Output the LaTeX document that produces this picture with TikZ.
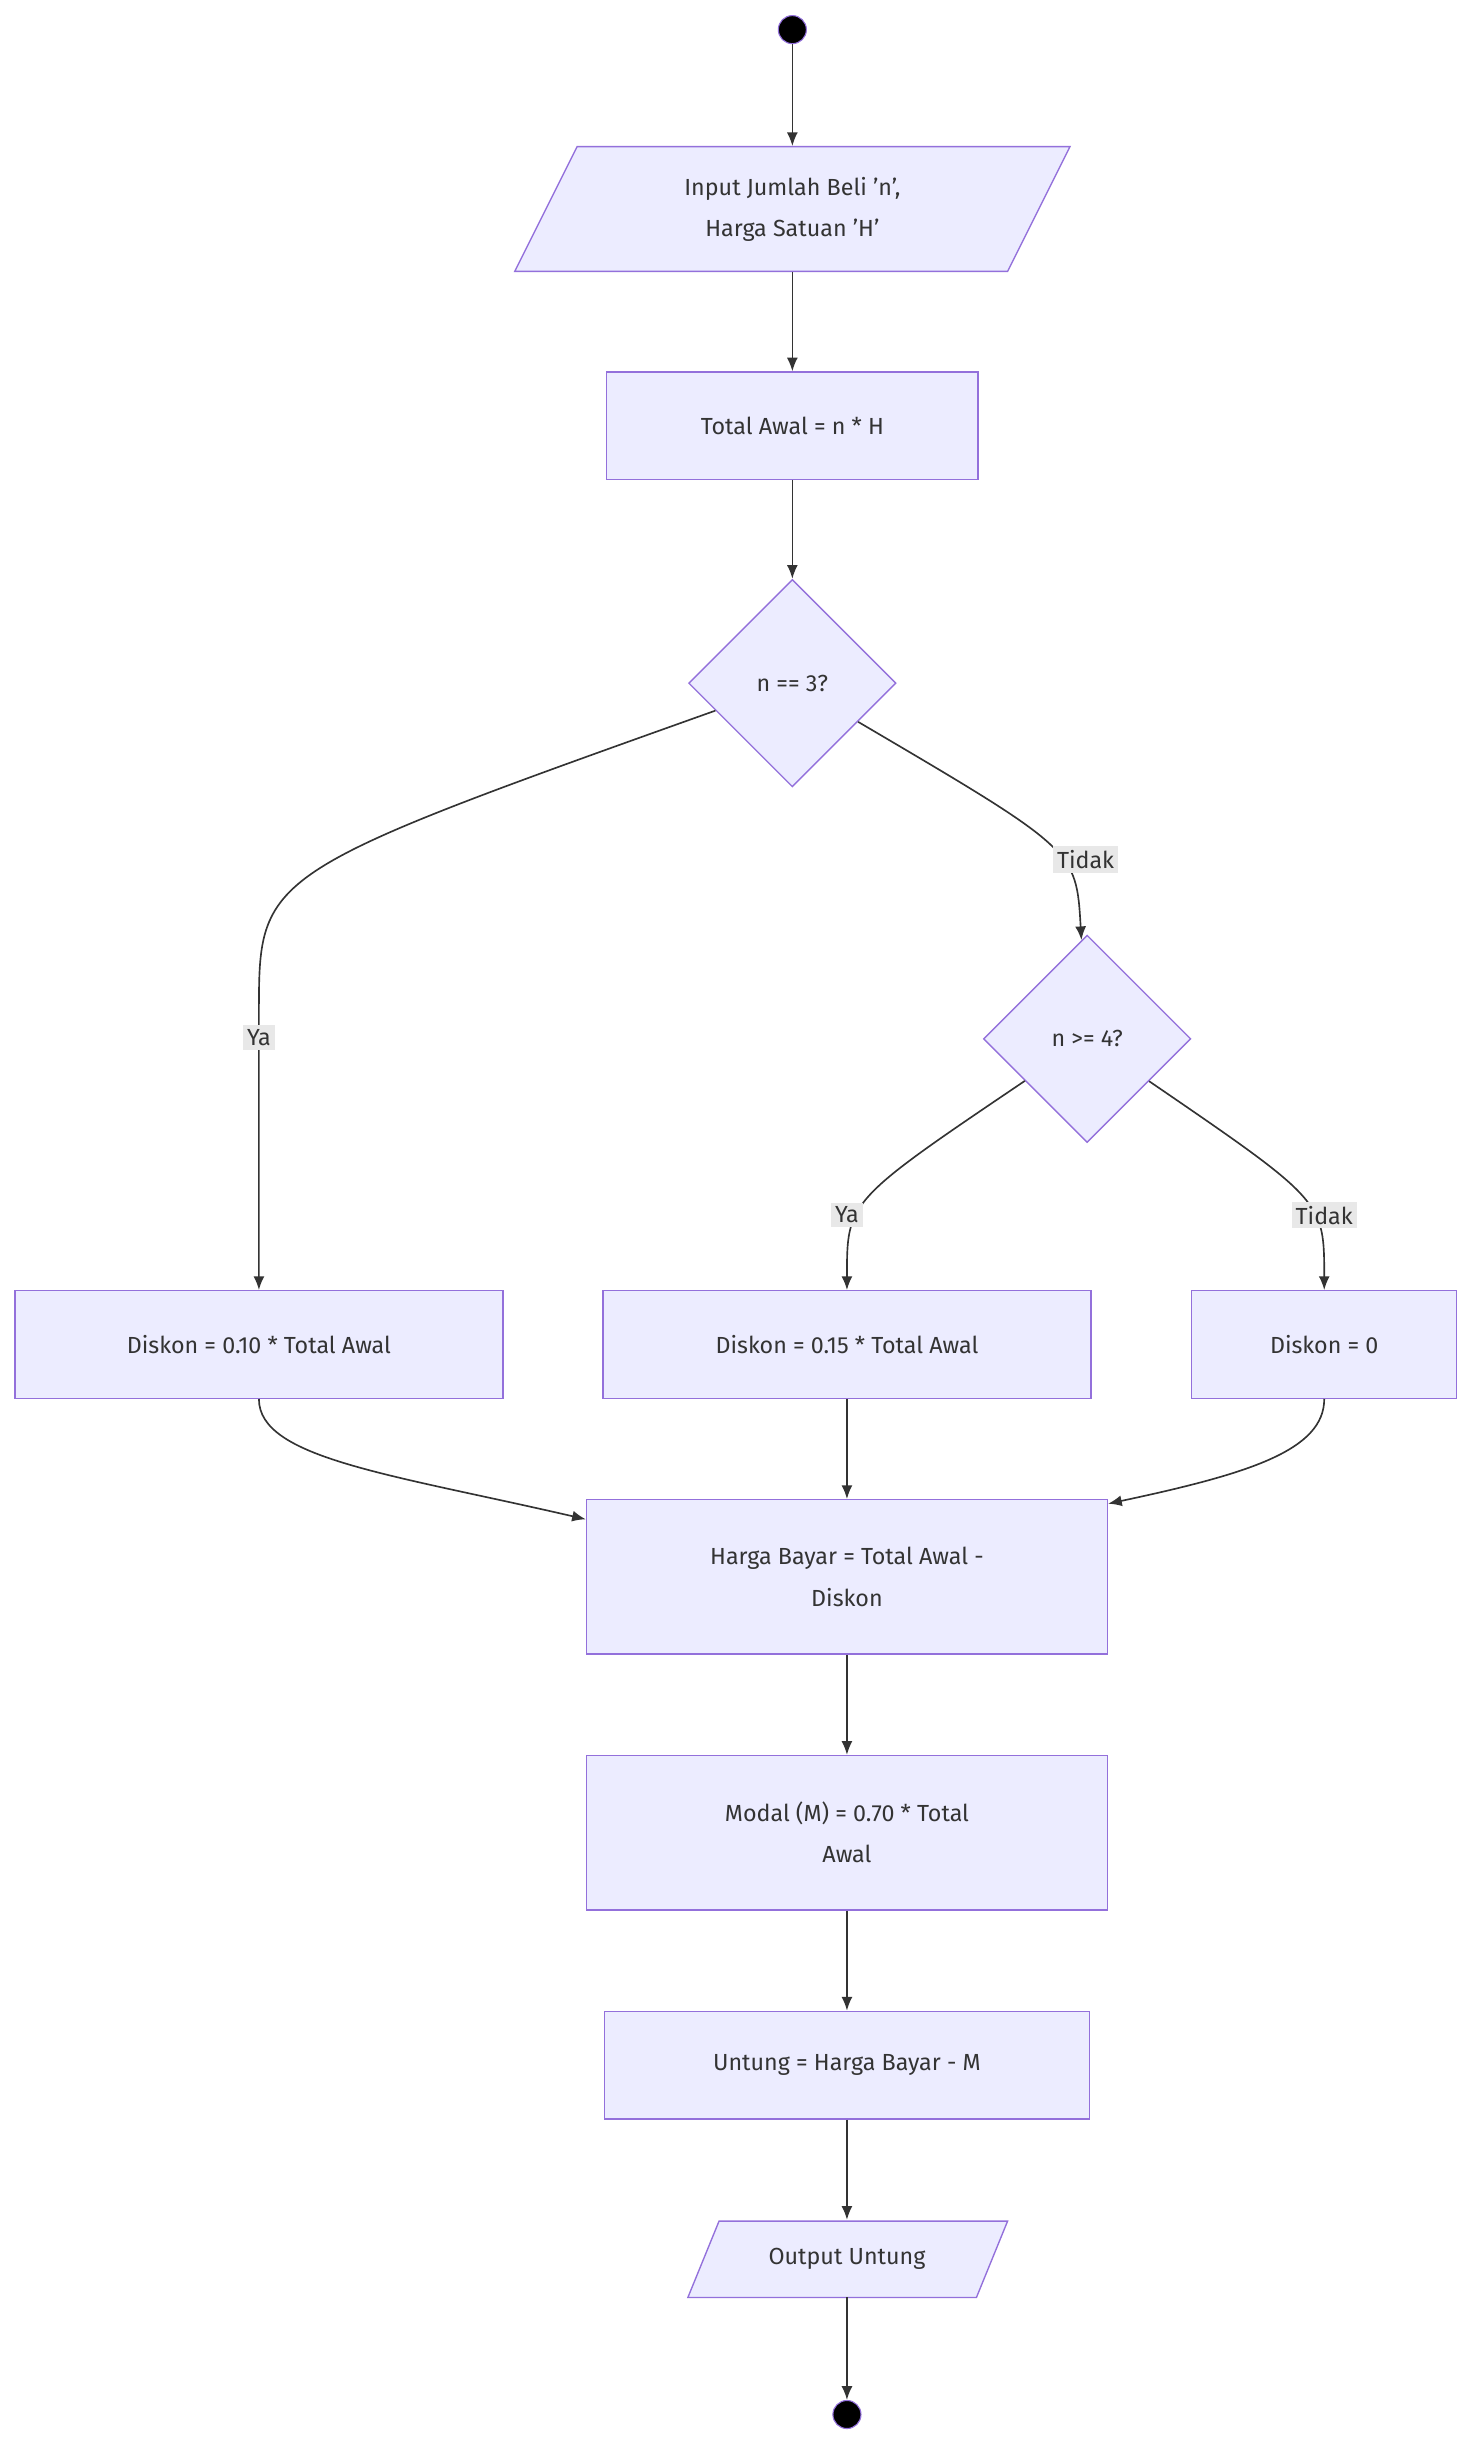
\documentclass[tikz,border=0pt]{standalone}
\usepackage{fontspec}
\setmainfont{Fira Sans}
\usetikzlibrary{shapes.geometric,arrows.meta}
\definecolor{boxfill}{HTML}{ECECFF}
\definecolor{boxline}{HTML}{9370DB}
\definecolor{edge}{HTML}{333333}
\definecolor{lblfill}{HTML}{E8E8E8}
\tikzset{
  box/.style={rectangle, draw=boxline, fill=boxfill, line width=0.5pt, align=center, text=edge},
  dec/.style={diamond, aspect=1, minimum size=2.66cm, inner sep=0pt, draw=boxline, fill=boxfill, line width=0.5pt, text=edge},
  io/.style={rectangle, align=center, text=edge},
  dot/.style={circle, fill=black, draw=boxline, minimum size=0.36cm, inner sep=0pt},
  lbl/.style={fill=lblfill, inner sep=1.5pt, text=edge},
  line/.style={draw=edge, line width=0.6pt, -{Latex[length=5pt,width=4pt]}}
}
\begin{document}
\begin{tikzpicture}[x=0.02cm,y=-0.02cm,font=\fontsize{8.5}{15}\selectfont]
\useasboundingbox (0,0) rectangle (943,1565);
\node [dot] (start) at (508,19) {};
\node [io, minimum width=7.12cm, minimum height=1.6cm] (input) at (508,134) {Input Jumlah Beli 'n',\\Harga Satuan 'H'};
\draw [boxline, fill=boxfill, line width=0.5pt] (370,94) -- (686,94) -- (646,174) -- (330,174) -- cycle;
\node [io] at (508,134) {Input Jumlah Beli 'n',\\Harga Satuan 'H'};
\node [box, minimum width=4.76cm, minimum height=1.38cm] (total) at (508,273) {Total Awal = n * H};
\node [dec] (d1) at (508,438) {n == 3?};
\node [dec] (d2) at (697,666) {n >= 4?};
\node [box, minimum width=6.26cm, minimum height=1.38cm] (r1) at (166,862) {Diskon = 0.10 * Total Awal};
\node [box, minimum width=6.26cm, minimum height=1.38cm] (r2) at (543,862) {Diskon = 0.15 * Total Awal};
\node [box, minimum width=3.4cm, minimum height=1.38cm] (r3) at (849,862) {Diskon = 0};
\node [box, minimum width=6.68cm, minimum height=1.98cm] (bayar) at (543,1011) {Harga Bayar = Total Awal -\\Diskon};
\node [box, minimum width=6.68cm, minimum height=1.98cm] (modal) at (543,1175) {Modal (M) = 0.70 * Total\\Awal};
\node [box, minimum width=6.22cm, minimum height=1.38cm] (untung) at (543,1324) {Untung = Harga Bayar - M};
\node [io, minimum width=4.1cm, minimum height=0.98cm] (output) at (543,1448) {};
\draw [boxline, fill=boxfill, line width=0.5pt] (461,1424) -- (646,1424) -- (626,1473) -- (441,1473) -- cycle;
\node [io] at (543,1448) {Output Untung};
\node [dot] (end) at (543,1548) {};
\draw [line] (start) -- (input);
\draw [line] (input) -- (total);
\draw [line] (total) -- (d1);
\draw [line] (d1) .. controls (166,560) .. (166,650) -- (r1);
\draw [line] (d1) .. controls (690,545) .. (d2);
\draw [line] (d2) .. controls (543,770) .. (r2);
\draw [line] (d2) .. controls (849,770) .. (r3);
\draw [line] (r1.south) .. controls (166,935) and (250,945) .. ([yshift=-0.26cm]bayar.north west);
\draw [line] (r2) -- (bayar);
\draw [line] (r3.south) .. controls (849,930) and (800,945) .. ([yshift=-0.06cm]bayar.north east);
\draw [line] (bayar) -- (modal);
\draw [line] (modal) -- (untung);
\draw [line] (untung) -- (output);
\draw [line] (output) -- (end);
\node [lbl] (ya1) at (166,665) {Ya};
\node [lbl] (tidak1) at (696,551) {Tidak};
\node [lbl] (ya2) at (543,779) {Ya};
\node [lbl] (tidak2) at (849,779) {Tidak};
\end{tikzpicture}
\end{document}
